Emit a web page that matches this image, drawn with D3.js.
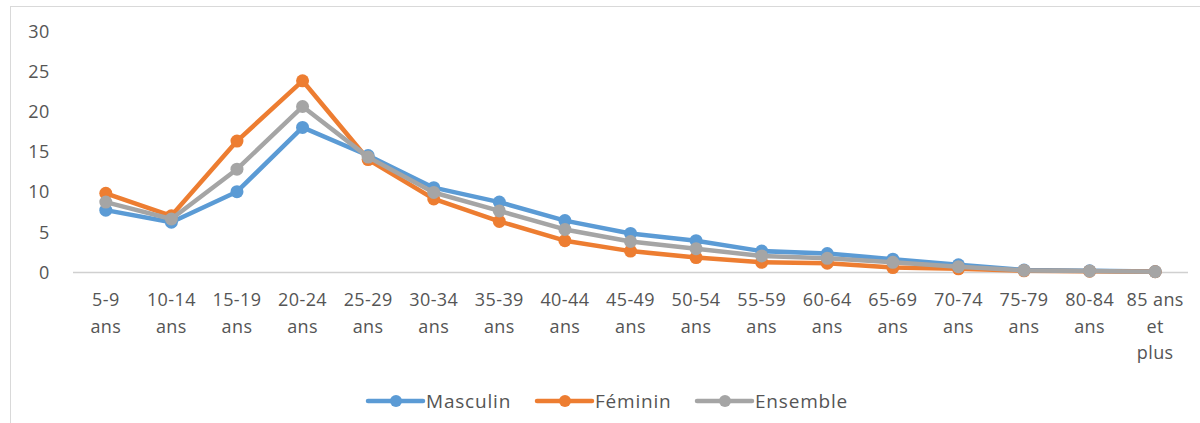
<!DOCTYPE html>
<html><head><meta charset="utf-8">
<script src="https://cdn.jsdelivr.net/npm/d3@7"></script>
<style>body{margin:0;background:#fff}svg{display:block;font-family:"Open Sans",sans-serif}</style>
</head><body><svg id="c" width="1200" height="423"></svg>
<script>
const categories = ["5-9 ans","10-14 ans","15-19 ans","20-24 ans","25-29 ans","30-34 ans","35-39 ans","40-44 ans","45-49 ans","50-54 ans","55-59 ans","60-64 ans","65-69 ans","70-74 ans","75-79 ans","80-84 ans","85 ans et plus"];
const categoryLines = [["5-9","ans"],["10-14","ans"],["15-19","ans"],["20-24","ans"],["25-29","ans"],["30-34","ans"],["35-39","ans"],["40-44","ans"],["45-49","ans"],["50-54","ans"],["55-59","ans"],["60-64","ans"],["65-69","ans"],["70-74","ans"],["75-79","ans"],["80-84","ans"],["85 ans","et","plus"]];
const masculin = [7.7,6.2,10.0,18.0,14.5,10.5,8.7,6.4,4.8,3.9,2.6,2.3,1.6,0.9,0.25,0.15,0.05];
const feminin  = [9.8,7.0,16.3,23.8,14.0,9.1,6.3,3.9,2.6,1.8,1.2,1.1,0.55,0.4,0.15,0.1,0.03];
const ensemble = [8.7,6.6,12.8,20.6,14.3,9.9,7.6,5.3,3.8,2.9,2.0,1.7,1.2,0.66,0.2,0.12,0.04];
const yTicks = [0,5,10,15,20,25,30];
const seriesNames = ["Masculin","Féminin","Ensemble"];
const seriesColors = ["#5B9BD5","#ED7D31","#A5A5A5"];

const svg = d3.select("#c");
svg.append("rect").attr("x",10.5).attr("y",6.5).attr("width",1200).attr("height",430)
  .attr("fill","#fff").attr("stroke","#d9d9d9").attr("stroke-width",1);

const x = d3.scaleBand().domain(categories).range([73,1188]).padding(0);
const y = d3.scaleLinear().domain([0,30]).range([272,31]);
const cx = c => x(c)+x.bandwidth()/2;

const yAxis = d3.axisLeft(y).tickValues(yTicks).tickSize(0).tickPadding(0);
const gy = svg.append("g").attr("transform","translate(50,0)").call(yAxis);
gy.select(".domain").remove();
gy.selectAll("text").attr("fill","#555").attr("font-size",18).attr("font-family","Open Sans")
  .attr("letter-spacing","0.6px").attr("dy","0.35em");

svg.append("line").attr("x1",73).attr("x2",1188).attr("y1",y(0)+0.5).attr("y2",y(0)+0.5)
  .attr("stroke","#d0d0d0").attr("stroke-width",1.5);

const gx = svg.append("g");
categories.forEach((c,i)=>{
  const t = gx.append("text").attr("y",306)
    .attr("text-anchor","middle").attr("fill","#555").attr("font-size",18).attr("letter-spacing","0.4px");
  categoryLines[i].forEach((ln,j)=>{
    t.append("tspan").attr("x",cx(c)).attr("y",306+j*26.5).text(ln);
  });
});

const data = [masculin,feminin,ensemble];
const line = d3.line().x((d,i)=>cx(categories[i])).y(d=>y(d));
data.forEach((vals,k)=>{
  const g = svg.append("g");
  g.append("path").attr("d",line(vals)).attr("fill","none").attr("stroke",seriesColors[k])
    .attr("stroke-width",4.5).attr("stroke-linejoin","round");
  g.selectAll("circle").data(vals).join("circle")
    .attr("cx",(d,i)=>cx(categories[i])).attr("cy",d=>y(d)).attr("r",6.5)
    .attr("fill",seriesColors[k]);
});

const legX = [368,537,697];
seriesNames.forEach((n,k)=>{
  const g = svg.append("g").attr("transform",`translate(${legX[k]},401)`);
  g.append("line").attr("x1",0).attr("x2",55).attr("stroke",seriesColors[k]).attr("stroke-width",4.5).attr("stroke-linecap","round");
  g.append("circle").attr("cx",28).attr("r",6).attr("fill",seriesColors[k]);
  g.append("text").attr("x",58).attr("y",0).attr("dy","0.35em").attr("fill","#555")
    .attr("font-size",19).attr("letter-spacing","0.8px").text(n);
});
</script></body></html>
